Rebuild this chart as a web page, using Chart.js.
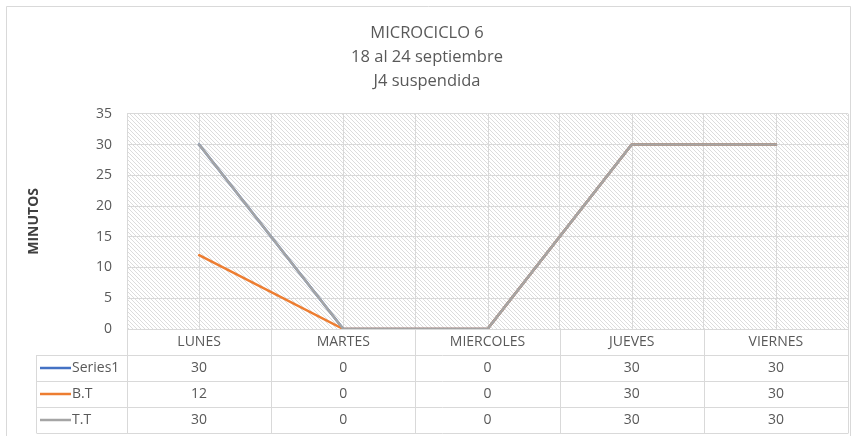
<!DOCTYPE html>
<html><head><meta charset="utf-8">
<script src="https://cdn.jsdelivr.net/npm/chart.js@4.4.0/dist/chart.umd.min.js"></script>
<style>html,body{margin:0;padding:0;background:#fff;overflow:hidden}#wrap{width:851px;height:436px;position:relative}</style>
</head><body><div id="wrap"><canvas id="c"></canvas></div>
<script>
const categories = ['LUNES', 'MARTES', 'MIERCOLES', 'JUEVES', 'VIERNES'];
const series1 = [30, 0, 0, 30, 30];
const bt = [12, 0, 0, 30, 30];
const tt = [30, 0, 0, 30, 30];
const seriesNames = ['Series1', 'B.T', 'T.T'];
const seriesColors = ['#4472C4', '#ED7D31', '#A5A5A5'];
const titleLines = ['MICROCICLO 6', '18 al 24 septiembre', 'J4 suspendida'];
const yAxisTitle = 'MINUTOS';
const yMin = 0, yMax = 35, yStep = 5;

const FONT = "'Open Sans', 'DejaVu Sans', sans-serif";
const TXT = '#595959';
const GRID = '#d9d9d9';

function makePattern(ctx) {
  const p = document.createElement('canvas');
  p.width = 4; p.height = 4;
  const pc = p.getContext('2d');
  pc.fillStyle = '#ffffff';
  pc.fillRect(0, 0, 4, 4);
  pc.fillStyle = '#dcdcdc';
  for (let i = 0; i < 4; i++) pc.fillRect(i, i, 1, 1);
  return ctx.createPattern(p, 'repeat');
}

const bgPlugin = {
  id: 'bg',
  beforeDraw(chart) {
    const ctx = chart.ctx, a = chart.chartArea;
    ctx.save();
    ctx.fillStyle = '#fff';
    ctx.fillRect(0, 0, chart.width, chart.height);
    ctx.strokeStyle = GRID;
    ctx.lineWidth = 1;
    ctx.beginPath();
    ctx.moveTo(6.5, chart.height + 1);
    ctx.lineTo(6.5, 6.5);
    ctx.lineTo(850.5, 6.5);
    ctx.lineTo(850.5, chart.height + 1);
    ctx.stroke();
    ctx.fillStyle = makePattern(ctx);
    ctx.fillRect(a.left, a.top, a.right - a.left, a.bottom - a.top);
    ctx.restore();
  },
  beforeDatasetsDraw(chart) {
    const ctx = chart.ctx, a = chart.chartArea, xs = chart.scales.x;
    ctx.save();
    ctx.strokeStyle = GRID;
    ctx.lineWidth = 1;
    categories.forEach((c, i) => {
      const x = Math.round(xs.getPixelForValue(i)) + 0.5;
      ctx.beginPath();
      ctx.moveTo(x, a.top);
      ctx.lineTo(x, a.bottom);
      ctx.stroke();
    });
    ctx.restore();
  },
  afterDraw(chart) {
    const ctx = chart.ctx, a = chart.chartArea, xs = chart.scales.x;
    const n = categories.length;
    const colW = (a.right - a.left) / n;
    const rowH = 26;
    const top = a.bottom;
    const tableLeft = 36.5;
    const rows = [series1, bt, tt];
    ctx.save();
    ctx.strokeStyle = GRID;
    ctx.lineWidth = 1;
    for (let i = 0; i <= n; i++) {
      const x = Math.round(a.left + i * colW) + 0.5;
      ctx.beginPath();
      ctx.moveTo(x, top);
      ctx.lineTo(x, top + rowH * 4);
      ctx.stroke();
    }
    ctx.beginPath();
    ctx.moveTo(tableLeft, top + rowH);
    ctx.lineTo(tableLeft, top + rowH * 4);
    ctx.stroke();
    for (let r = 0; r <= 4; r++) {
      const y = Math.round(top + r * rowH) + 0.5;
      ctx.beginPath();
      ctx.moveTo(r === 0 ? a.left : tableLeft, y);
      ctx.lineTo(a.right + 0.5, y);
      ctx.stroke();
    }
    ctx.font = '14px ' + FONT;
    ctx.fillStyle = TXT;
    ctx.textAlign = 'center';
    ctx.textBaseline = 'middle';
    categories.forEach((c, i) => {
      ctx.fillText(c, xs.getPixelForValue(i), top + rowH / 2);
    });
    rows.forEach((vals, r) => {
      const yc = top + rowH * (r + 1) + rowH / 2;
      vals.forEach((v, i) => {
        ctx.fillText(String(v), xs.getPixelForValue(i), yc);
      });
      ctx.strokeStyle = seriesColors[r];
      ctx.lineWidth = 2.5;
      ctx.beginPath();
      ctx.moveTo(40, yc);
      ctx.lineTo(71, yc);
      ctx.stroke();
      ctx.textAlign = 'left';
      ctx.fillText(seriesNames[r], 72, yc);
      ctx.textAlign = 'center';
    });
    ctx.restore();
  }
};

function ds(label, data, color, order) {
  return { label, data, borderColor: color, backgroundColor: color, borderWidth: 2.5,
    pointRadius: 0, pointHoverRadius: 0, tension: 0, fill: false, order,
    borderCapStyle: 'round', borderJoinStyle: 'round' };
}

new Chart(document.getElementById('c'), {
  type: 'line',
  data: {
    labels: categories,
    datasets: [
      ds(seriesNames[0], series1, seriesColors[0], 3),
      ds(seriesNames[1], bt, seriesColors[1], 2),
      ds(seriesNames[2], tt, seriesColors[2], 1)
    ]
  },
  options: {
    responsive: true,
    maintainAspectRatio: false,
    animation: false,
    events: [],
    layout: { padding: { left: 6, right: 3, top: 0, bottom: 0 } },
    plugins: {
      legend: { display: false },
      tooltip: { enabled: false },
      title: {
        display: true,
        text: titleLines,
        color: TXT,
        font: { family: FONT, size: 16.5, weight: 'normal', lineHeight: 1.45 },
        padding: { top: 21, bottom: 21 }
      }
    },
    scales: {
      x: {
        offset: true,
        ticks: { display: false },
        grid: { offset: true, color: GRID, drawTicks: false, lineWidth: 1 },
        border: { display: true, color: GRID },
        afterFit(s) { s.height = 107; }
      },
      y: {
        min: yMin, max: yMax,
        ticks: { stepSize: yStep, color: TXT, padding: 15, font: { family: FONT, size: 14 } },
        grid: { color: GRID, drawTicks: false, lineWidth: 1 },
        border: { display: false },
        title: { display: true, text: yAxisTitle, color: '#404040', font: { family: FONT, size: 14, weight: 'bold' }, padding: { top: 20, bottom: 0 } },
        afterFit(s) { s.width = 121; }
      }
    }
  },
  plugins: [bgPlugin]
});
</script>
</body></html>
